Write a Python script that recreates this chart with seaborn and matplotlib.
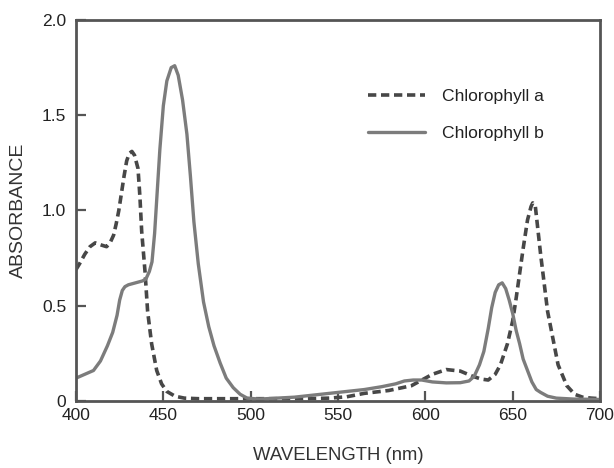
#!/usr/bin/env python3
# Absorption spectra of chlorophyll a and b

import pandas as pd
import seaborn as sns
import matplotlib
matplotlib.use("Agg")
import matplotlib.pyplot as plt

sns.set_style("white")
plt.rcParams['font.family'] = ['Liberation Sans', 'DejaVu Sans']

# wavelength (nm) / absorbance
chl_a_nm = [400, 402, 405, 408, 411, 414, 417.5, 419.5, 421.5, 423, 424.5, 426,
            427.5, 429, 430.5, 432, 433.5, 435.5, 436.6, 437.6, 439.5, 441,
            443.3, 446.2, 449, 452, 456.7, 462, 470, 500, 530, 545, 555, 565,
            579, 592, 604, 612, 620, 627, 632, 636, 640, 643, 647, 650, 652,
            654, 656, 658.5, 660.5, 661.5, 663, 666, 668, 670, 673, 676, 681,
            685.5, 690, 695, 700]
chl_a_abs = [0.69, 0.72, 0.77, 0.81, 0.83, 0.82, 0.81, 0.83, 0.87, 0.93, 1.00,
             1.09, 1.18, 1.26, 1.30, 1.31, 1.29, 1.22, 1.07, 0.89, 0.68, 0.47,
             0.30, 0.16, 0.09, 0.05, 0.025, 0.015, 0.012, 0.012, 0.012, 0.015,
             0.022, 0.04, 0.055, 0.08, 0.14, 0.165, 0.157, 0.13, 0.115, 0.11,
             0.14, 0.19, 0.30, 0.42, 0.54, 0.67, 0.80, 0.95, 1.02, 1.04, 1.02,
             0.77, 0.62, 0.47, 0.33, 0.19, 0.08, 0.035, 0.02, 0.015, 0.012]

chl_b_nm = [400, 405, 410, 414, 418, 421, 423.5, 425, 426.5, 428, 430, 434, 438,
            440, 442, 443.5, 445, 446.5, 448, 450, 452, 454.5, 456.5, 458.5,
            461, 463.5, 465.5, 467.5, 470, 473, 476, 479, 482.5, 486, 490, 494,
            498, 505, 515, 525, 535, 545, 555, 565, 575, 583, 588, 593, 598,
            604, 612, 620, 625, 628, 631, 633.5, 636, 638, 640, 642, 644, 646,
            648, 650, 652, 654, 656, 658.5, 661, 663.5, 666, 670, 675, 685, 700]
chl_b_abs = [0.12, 0.14, 0.16, 0.21, 0.29, 0.36, 0.45, 0.53, 0.58, 0.60, 0.61,
             0.62, 0.63, 0.64, 0.68, 0.73, 0.88, 1.10, 1.32, 1.55, 1.68, 1.75,
             1.76, 1.71, 1.58, 1.40, 1.18, 0.94, 0.72, 0.52, 0.39, 0.29, 0.20,
             0.12, 0.07, 0.035, 0.015, 0.01, 0.015, 0.02, 0.03, 0.04, 0.05,
             0.06, 0.075, 0.09, 0.105, 0.11, 0.11, 0.10, 0.095, 0.096, 0.105,
             0.13, 0.19, 0.26, 0.38, 0.49, 0.57, 0.61, 0.62, 0.59, 0.53, 0.46,
             0.37, 0.30, 0.22, 0.16, 0.10, 0.06, 0.045, 0.025, 0.015, 0.01,
             0.008]

x_ticks = [400, 450, 500, 550, 600, 650, 700]
y_ticks = [0, 0.5, 1.0, 1.5, 2.0]
y_tick_labels = ["0", "0.5", "1.0", "1.5", "2.0"]

df_a = pd.DataFrame({"nm": chl_a_nm, "abs": chl_a_abs})
df_b = pd.DataFrame({"nm": chl_b_nm, "abs": chl_b_abs})

fig = plt.figure(figsize=(6.14, 4.68), dpi=100)
ax = fig.add_axes([0.1238, 0.1432, 0.8534, 0.8141])

sns.lineplot(data=df_a, x="nm", y="abs", ax=ax, estimator=None, sort=False,
             color="#474747", linewidth=2.6, linestyle=(0, (2.3, 1.3)),
             label="Chlorophyll a")
sns.lineplot(data=df_b, x="nm", y="abs", ax=ax, estimator=None, sort=False,
             color="#7c7c7c", linewidth=2.4, label="Chlorophyll b")

ax.set_xlim(400, 700)
ax.set_ylim(0, 2.0)
ax.set_xticks(x_ticks)
ax.set_yticks(y_ticks)
ax.set_yticklabels(y_tick_labels)

for s in ax.spines.values():
    s.set_color("#555555")
    s.set_linewidth(2.0)
ax.tick_params(direction="in", length=7.5, width=1.6, color="#555555",
               labelsize=12.5, labelcolor="#222222", bottom=True, left=True,
               top=False, right=False)
ax.tick_params(axis="y", pad=7)
ax.tick_params(axis="x", pad=5)

ax.set_xlabel("WAVELENGTH (nm)", fontsize=13.3, color="#333333", labelpad=17)
ax.set_ylabel("ABSORBANCE", fontsize=14, color="#333333", labelpad=11)

leg = ax.legend(loc="upper left", bbox_to_anchor=(0.557, 0.82), frameon=False,
                fontsize=12.6, handlelength=3.25, handletextpad=1.0,
                labelspacing=1.25, borderpad=0, borderaxespad=0)
for t in leg.get_texts():
    t.set_color("#222222")

plt.savefig("out.png", dpi=100)
